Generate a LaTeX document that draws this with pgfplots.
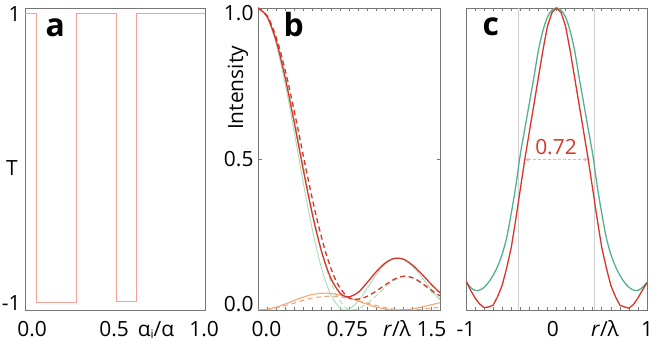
\documentclass[border=0pt]{standalone}
\usepackage{fontspec}
\setmainfont{Open Sans}
\usepackage{pgfplots}
\pgfplotsset{compat=1.18}
\definecolor{framegray}{HTML}{767676}
\definecolor{salmon}{HTML}{F7A095}
\definecolor{vred}{HTML}{D8352A}
\definecolor{palegreen}{HTML}{A9DCB4}
\definecolor{vorange}{HTML}{F3A679}
\definecolor{teal}{HTML}{55B08F}
\definecolor{arrowpink}{HTML}{F4B0B0}
\definecolor{vlinegray}{HTML}{CFCFCF}

\pgfplotsset{
  panel/.style={scale only axis, height=302bp, anchor=south west,
    font=\fontsize{21}{25}\selectfont,
    axis line style={draw=framegray, line width=0.8bp},
    major tick length=0pt, minor tick length=3.5bp,
    tick style={draw=framegray, line width=0.6bp},
    tick align=inside,
    xticklabel style={anchor=base, yshift=-26bp},
    yticklabel style={xshift=-1bp}},
  dashline/.style={dash pattern=on 5bp off 3.5bp}
}

% panel b, solid curves
\pgfplotstableread{
x g o r
0 1 0 1
0.075 0.969 0.0025 0.9715
0.15 0.881 0.0097 0.891
0.225 0.747 0.0201 0.767
0.3 0.586 0.0320 0.618
0.375 0.417 0.0430 0.460
0.45 0.262 0.0514 0.313
0.525 0.136 0.0555 0.192
0.6 0.050 0.0549 0.105
0.675 0.0068 0.0496 0.056
0.72 0.0 0.0445 0.045
0.75 0.0023 0.0408 0.043
0.825 0.0285 0.0299 0.058
0.9 0.072 0.0190 0.091
0.975 0.117 0.0096 0.127
1.05 0.153 0.0031 0.156
1.125 0.171 0.0002 0.171
1.2 0.167 0.0007 0.168
1.275 0.144 0.0039 0.148
1.35 0.109 0.0100 0.119
1.425 0.069 0.0170 0.086
1.5 0.033 0.0240 0.057
}\solidtab

% panel b, dashed curves
\pgfplotstableread{
x g o r
0 1 0 1
0.081 0.969 0.0021 0.971
0.161 0.881 0.0079 0.889
0.242 0.747 0.0165 0.764
0.323 0.586 0.0261 0.612
0.403 0.417 0.0352 0.452
0.484 0.262 0.0420 0.304
0.565 0.136 0.0454 0.181
0.645 0.050 0.0449 0.095
0.726 0.0068 0.0406 0.047
0.77 0.0 0.037 0.037
0.806 0.0015 0.0334 0.035
0.887 0.018 0.0245 0.043
0.968 0.045 0.0155 0.061
1.048 0.075 0.0078 0.083
1.129 0.100 0.0025 0.103
1.210 0.112 0.0001 0.112
1.290 0.103 0.0006 0.104
1.371 0.080 0.0032 0.083
1.452 0.052 0.0072 0.059
1.5 0.038 0.0091 0.047
}\dashtab

% panel c
\pgfplotstableread{
x g r
-1 0.095 0.096
-0.95 0.075 0.066
-0.9 0.065 0.040
-0.85 0.066 0.020
-0.8 0.075 0.008
-0.75 0.092 0.010
-0.7 0.115 0.016
-0.65 0.145 0.045
-0.6 0.185 0.082
-0.55 0.240 0.140
-0.5 0.320 0.207
-0.45 0.410 0.300
-0.4 0.515 0.400
-0.35 0.600 0.500
-0.3 0.685 0.590
-0.25 0.770 0.680
-0.2 0.860 0.770
-0.15 0.925 0.860
-0.1 0.970 0.940
-0.05 0.993 0.985
0 1 1
0.05 0.993 0.985
0.1 0.970 0.940
0.15 0.925 0.860
0.2 0.860 0.770
0.25 0.770 0.680
0.3 0.685 0.590
0.35 0.600 0.500
0.4 0.515 0.400
0.45 0.410 0.300
0.5 0.320 0.207
0.55 0.240 0.140
0.6 0.185 0.082
0.65 0.145 0.045
0.7 0.115 0.016
0.75 0.092 0.010
0.8 0.075 0.006
0.85 0.066 0.018
0.9 0.065 0.040
0.95 0.075 0.066
1 0.092 0.090
}\ctab

\begin{document}
\begin{tikzpicture}
\useasboundingbox (0,0) rectangle (665bp,342bp);

% ---- a
\begin{axis}[panel, at={(25bp,32bp)}, width=180bp,
  xmin=0, xmax=1, ymin=-1.05, ymax=1.04,
  xtick={0.04,0.495,0.995}, xticklabels={0.0,0.5,1.0},
  ytick={-1,1}, yticklabels={-1,1}]
\addplot[const plot, salmon, line width=0.9bp] coordinates {
  (0,1) (0.065,-1) (0.287,1) (0.506,-0.99) (0.617,1) (1,1)};
\end{axis}

% ---- b
\begin{axis}[panel, at={(258bp,32bp)}, width=182bp,
  xmin=0, xmax=1.5, ymin=0, ymax=1,
  xtick={0.07,0.736,1.43}, xticklabels={0.0,0.75,1.5},
  ytick={0.02,0.5,0.983}, yticklabels={0.0,0.5,1.0},
  minor xtick={0,0.075,...,1.5}, minor ytick={0.5}]
\addplot[palegreen, line width=0.9bp, smooth] table[x=x,y=g] {\solidtab};
\addplot[palegreen, line width=0.9bp, smooth, dashline] table[x=x,y=g] {\dashtab};
\addplot[vorange, line width=1.1bp, smooth] table[x=x,y=o] {\solidtab};
\addplot[vorange, line width=1.1bp, smooth, dashline] table[x=x,y=o] {\dashtab};
\addplot[vred, line width=1.3bp, smooth] table[x=x,y=r] {\solidtab};
\addplot[vred, line width=1.3bp, smooth, dashline] table[x=x,y=r] {\dashtab};
\end{axis}

% ---- c
\begin{axis}[panel, at={(466bp,32bp)}, width=181bp,
  xmin=-1, xmax=1, ymin=0, ymax=1,
  xtick={-1,-0.04,1}, xticklabels={-1,0,1},
  ytick=\empty,
  minor xtick={-1,-0.9,...,1}, minor ytick={0.5}]
\addplot[vlinegray, line width=0.9bp] coordinates {(-0.415,0) (-0.415,1)};
\addplot[vlinegray, line width=0.9bp] coordinates {(0.415,0) (0.415,1)};
\addplot[arrowpink, line width=1bp, dash pattern=on 3bp off 2bp, <->, >=stealth] coordinates {(-0.35,0.498) (0.35,0.498)};
\addplot[teal, line width=1.3bp, smooth] table[x=x,y=g] {\ctab};
\addplot[vred, line width=1.3bp] table[x=x,y=r] {\ctab};
\end{axis}

% labels
\node[anchor=base west, font=\fontsize{32}{36}\selectfont\bfseries] at (42bp,305bp) {a};
\node[anchor=base west, font=\fontsize{32}{36}\selectfont\bfseries] at (280bp,305bp) {b};
\node[anchor=base west, font=\fontsize{32}{36}\selectfont\bfseries] at (479bp,306bp) {c};
\node[font=\fontsize{21}{25}\selectfont] at (12bp,174bp) {T};
\node[font=\fontsize{21}{25}\selectfont, rotate=90] at (238bp,254bp) {Intensity};
\node[anchor=base, font=\fontsize{21}{25}\selectfont] at (156bp,6bp) {α\raisebox{-0.1em}{\fontsize{12}{14}\selectfont i}/α};
\node[anchor=base, font=\fontsize{21}{25}\selectfont] at (397bp,6bp) {\textit{r}/λ};
\node[anchor=base, font=\fontsize{21}{25}\selectfont] at (605bp,6bp) {\textit{r}/λ};
\node[anchor=base, font=\fontsize{21}{25}\selectfont, text=vred] at (556bp,187bp) {0.72};
\end{tikzpicture}
\end{document}
